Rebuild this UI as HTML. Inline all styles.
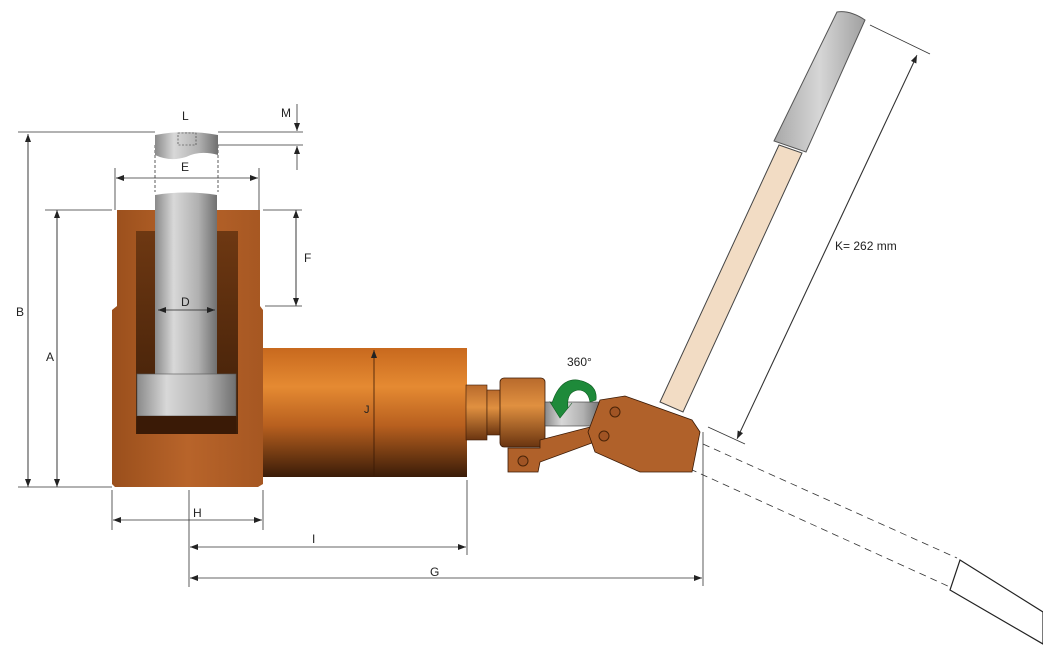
<!DOCTYPE html>
<html><head><meta charset="utf-8"><style>
html,body{margin:0;padding:0;background:#fff;}
svg{display:block;}
text{font-family:"Liberation Sans",sans-serif;font-size:12px;fill:#222;}
</style></head><body>
<svg width="1043" height="656" viewBox="0 0 1043 656" xmlns="http://www.w3.org/2000/svg">
<defs>
<linearGradient id="body" x1="0" y1="0" x2="1" y2="0">
<stop offset="0" stop-color="#9a4f1c"/><stop offset="0.5" stop-color="#b8642a"/><stop offset="1" stop-color="#a65722"/>
</linearGradient>
<linearGradient id="cyl" x1="0" y1="0" x2="0" y2="1">
<stop offset="0" stop-color="#c8691e"/><stop offset="0.3" stop-color="#e58a32"/><stop offset="0.6" stop-color="#b8601f"/><stop offset="1" stop-color="#3a1c08"/>
</linearGradient>
<linearGradient id="ram" x1="0" y1="0" x2="1" y2="0">
<stop offset="0" stop-color="#8a8a8a"/><stop offset="0.3" stop-color="#d8d8d8"/><stop offset="0.7" stop-color="#b0b0b0"/><stop offset="1" stop-color="#707070"/>
</linearGradient>
<linearGradient id="cav" x1="0" y1="0" x2="0" y2="1">
<stop offset="0" stop-color="#6e3812"/><stop offset="1" stop-color="#3e1e08"/>
</linearGradient>
<linearGradient id="grip" x1="0" y1="0" x2="1" y2="0">
<stop offset="0" stop-color="#a8a8a8"/><stop offset="0.5" stop-color="#d6d6d6"/><stop offset="1" stop-color="#a0a0a0"/>
</linearGradient>
<linearGradient id="coll" x1="0" y1="0" x2="0" y2="1">
<stop offset="0" stop-color="#b86a2c"/><stop offset="0.4" stop-color="#e09040"/><stop offset="1" stop-color="#6a3410"/>
</linearGradient>
<marker id="a" markerWidth="8" markerHeight="6" refX="8" refY="3" orient="auto" markerUnits="userSpaceOnUse"><path d="M0,0 L8,3 L0,6 z" fill="#222"/></marker>
</defs>

<g stroke="#333" stroke-width="0.8" fill="none">
<line x1="18" y1="132" x2="155" y2="132"/>
<line x1="18" y1="487" x2="112" y2="487"/>
<line x1="45" y1="210" x2="112" y2="210"/>
<line x1="28" y1="480" x2="28" y2="134" marker-end="url(#a)"/>
<line x1="28" y1="140" x2="28" y2="487" marker-end="url(#a)"/>
<line x1="57" y1="218" x2="57" y2="487" marker-end="url(#a)"/>
<line x1="57" y1="480" x2="57" y2="210" marker-end="url(#a)"/>
<line x1="218" y1="132" x2="303" y2="132"/>
<line x1="202" y1="145" x2="303" y2="145"/>
<line x1="297" y1="104" x2="297" y2="131" marker-end="url(#a)"/>
<line x1="297" y1="170" x2="297" y2="146" marker-end="url(#a)"/>
<line x1="115" y1="168" x2="115" y2="210"/>
<line x1="259" y1="168" x2="259" y2="210"/>
<line x1="125" y1="178" x2="116" y2="178" marker-end="url(#a)"/>
<line x1="120" y1="178" x2="258" y2="178" marker-end="url(#a)"/>
<line x1="263" y1="210" x2="302" y2="210"/>
<line x1="265" y1="306" x2="302" y2="306"/>
<line x1="296" y1="300" x2="296" y2="210" marker-end="url(#a)"/>
<line x1="296" y1="216" x2="296" y2="306" marker-end="url(#a)"/>
<line x1="155" y1="145" x2="155" y2="192" stroke-dasharray="3,2"/>
<line x1="218" y1="145" x2="218" y2="192" stroke-dasharray="3,2"/>
<line x1="112" y1="490" x2="112" y2="530"/>
<line x1="263" y1="490" x2="263" y2="530"/>
<line x1="189" y1="490" x2="189" y2="587"/>
<line x1="467" y1="480" x2="467" y2="555"/>
<line x1="703" y1="432" x2="703" y2="586"/>
<line x1="120" y1="520" x2="113" y2="520" marker-end="url(#a)"/>
<line x1="120" y1="520" x2="262" y2="520" marker-end="url(#a)"/>
<line x1="197" y1="547" x2="190" y2="547" marker-end="url(#a)"/>
<line x1="197" y1="547" x2="466" y2="547" marker-end="url(#a)"/>
<line x1="197" y1="578" x2="190" y2="578" marker-end="url(#a)"/>
<line x1="197" y1="578" x2="702" y2="578" marker-end="url(#a)"/>
<line x1="870" y1="25" x2="930" y2="54"/>
<line x1="708" y1="427" x2="745" y2="444"/>
<line x1="740" y1="432" x2="917" y2="55" marker-end="url(#a)"/>
<line x1="915" y1="60" x2="737" y2="439" marker-end="url(#a)"/>
<line x1="703" y1="444" x2="957" y2="558" stroke-dasharray="7,5"/>
<line x1="690" y1="469" x2="950" y2="587" stroke-dasharray="7,5"/>
</g>
<g stroke="#222" stroke-width="1.2" fill="#fff">
<path d="M960,560 L1043,612 L1043,644 L950,590 Z"/>
</g>

<path d="M117,210 L260,210 L260,306 L263,310 L263,484 L258,487 L115,487 L112,484 L112,310 L117,306 Z" fill="url(#body)"/>
<rect x="263" y="348" width="204" height="129" fill="url(#cyl)"/>
<rect x="136" y="231" width="102" height="203" fill="url(#cav)"/>
<path d="M155,195 Q186,190 217,195 L217,378 L155,378 Z" fill="url(#ram)"/>
<rect x="137" y="374" width="99" height="42" fill="url(#ram)" stroke="#555" stroke-width="0.6"/>
<rect x="137" y="416" width="99" height="18" fill="#3a1a06"/>
<path d="M155,135 Q186,129 218,135 L218,155 Q200,150 186,157 Q170,162 155,155 Z" fill="url(#ram)"/>
<rect x="178" y="133" width="18" height="12" fill="none" stroke="#333" stroke-width="0.6" stroke-dasharray="2,1.5"/>
<g stroke="#222" stroke-width="0.8">
<line x1="165" y1="310" x2="158" y2="310" marker-end="url(#a)"/>
<line x1="165" y1="310" x2="215" y2="310" marker-end="url(#a)"/>
</g>
<line x1="374" y1="476" x2="374" y2="350" stroke="#3a1a06" stroke-width="0.8" marker-end="url(#a)"/>

<rect x="466" y="385" width="21" height="55" fill="url(#coll)" stroke="#3a1a06" stroke-width="0.6"/>
<rect x="487" y="390" width="14" height="45" fill="url(#coll)" stroke="#3a1a06" stroke-width="0.6"/>
<rect x="500" y="378" width="45" height="69" rx="4" fill="url(#coll)" stroke="#3a1a06" stroke-width="0.8"/>
<rect x="545" y="402" width="55" height="24" fill="url(#ram)" stroke="#333" stroke-width="0.6"/>
<path d="M508,448 L540,448 L540,440 L598,425 L600,440 L540,462 L538,472 L508,472 Z" fill="#b0612a" stroke="#3a1a06" stroke-width="0.8"/>
<path d="M600,400 L625,396 L692,420 L700,432 L692,472 L640,472 L595,452 L588,432 Z" fill="#b0612a" stroke="#3a1a06" stroke-width="0.8"/>
<circle cx="615" cy="412" r="5" fill="#a05424" stroke="#4a2408"/>
<circle cx="604" cy="436" r="5" fill="#a05424" stroke="#4a2408"/>
<circle cx="523" cy="461" r="5" fill="#a05424" stroke="#4a2408"/>
<path d="M552,403 Q560,378 578,380 Q598,384 596,400 L590,402 Q588,390 578,390 Q566,392 568,408 L572,403 L560,418 L550,402 Z" fill="#1e8a3a" stroke="#0e5a20" stroke-width="0.6"/>

<path d="M779,145 L802,153 L683,412 L660,402 Z" fill="#f2dcc4" stroke="#444" stroke-width="1"/>
<path d="M837,12 Q850,10 865,20 L806,152 L774,141 Z" fill="url(#grip)" stroke="#555" stroke-width="1"/>

<text x="182" y="120">L</text>
<text x="281" y="117">M</text>
<text x="181" y="171">E</text>
<text x="304" y="262">F</text>
<text x="181" y="306">D</text>
<text x="16" y="316">B</text>
<text x="46" y="361">A</text>
<text x="364" y="413" style="font-size:11px">J</text>
<text x="193" y="517">H</text>
<text x="312" y="543">I</text>
<text x="430" y="576">G</text>
<text x="567" y="366">360°</text>
<text x="835" y="250">K= 262 mm</text>
</svg>
</body></html>
